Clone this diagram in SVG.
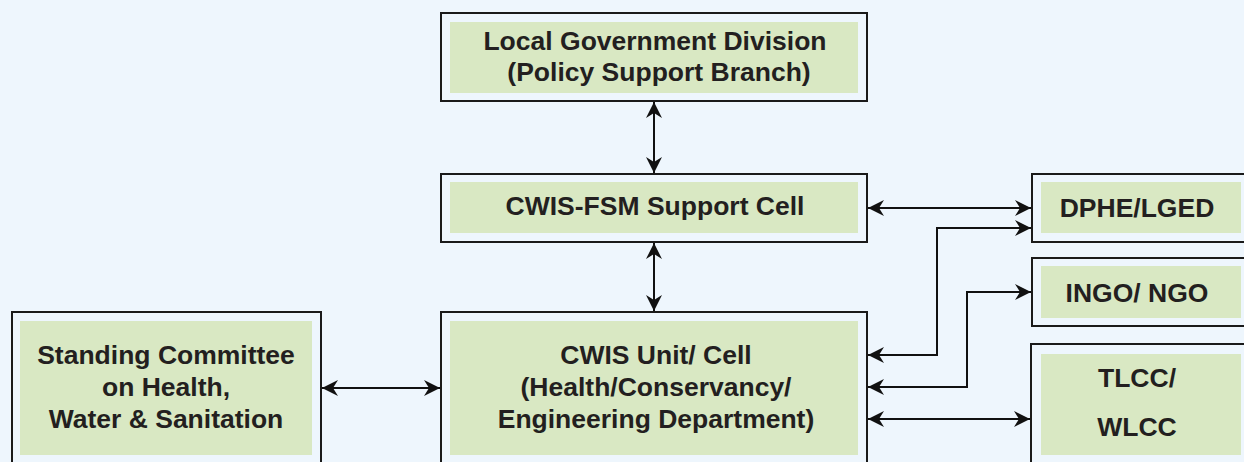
<svg xmlns="http://www.w3.org/2000/svg" width="1244" height="462" viewBox="0 0 1244 462">
  <style>
    .frame { fill: #eef6fd; stroke: #1a1a1a; stroke-width: 2; }
    .panel { fill: #d9e8c3; }
    .label { font-family: "Liberation Sans", Arial, sans-serif; font-weight: bold; font-size: 26.5px; fill: #231f20; text-anchor: middle; }
    .link { fill: none; stroke: #111; stroke-width: 2; marker-start: url(#head); marker-end: url(#head); }
  </style>
  <defs>
    <marker id="head" viewBox="0 0 16 16" refX="16" refY="8" markerWidth="16" markerHeight="16" markerUnits="userSpaceOnUse" orient="auto-start-reverse">
      <path d="M0,0 L16,8 L0,16 L5,8 Z" fill="#111"/>
    </marker>
  </defs>

  <rect width="1244" height="462" fill="#eef6fd"/>

  <g id="lgd">
    <rect class="frame" x="441" y="13" width="426" height="88"/>
    <rect class="panel" x="450" y="22" width="408" height="71"/>
    <text class="label" x="655" y="50">Local Government Division</text>
    <text class="label" x="659" y="81">(Policy Support Branch)</text>
  </g>

  <g id="support-cell">
    <rect class="frame" x="441" y="174" width="426" height="68"/>
    <rect class="panel" x="450" y="182" width="408" height="51"/>
    <text class="label" x="655" y="215">CWIS-FSM Support Cell</text>
  </g>

  <g id="cwis-unit">
    <rect class="frame" x="441" y="312" width="426" height="160"/>
    <rect class="panel" x="450" y="321" width="408" height="134"/>
    <text class="label" x="656" y="364">CWIS Unit/ Cell</text>
    <text class="label" x="656" y="396">(Health/Conservancy/</text>
    <text class="label" x="656" y="428">Engineering Department)</text>
  </g>

  <g id="standing-committee">
    <rect class="frame" x="12" y="312" width="309" height="160"/>
    <rect class="panel" x="20" y="321" width="292" height="134"/>
    <text class="label" x="166" y="364">Standing Committee</text>
    <text class="label" x="166" y="396">on Health,</text>
    <text class="label" x="166" y="428">Water &amp; Sanitation</text>
  </g>

  <g id="dphe-lged">
    <rect class="frame" x="1032" y="174" width="220" height="68"/>
    <rect class="panel" x="1041" y="182" width="200" height="51"/>
    <text class="label" x="1137" y="217">DPHE/LGED</text>
  </g>

  <g id="ingo-ngo">
    <rect class="frame" x="1032" y="258" width="220" height="68"/>
    <rect class="panel" x="1041" y="266" width="200" height="52"/>
    <text class="label" x="1137" y="302">INGO/ NGO</text>
  </g>

  <g id="tlcc-wlcc">
    <rect class="frame" x="1031" y="344" width="220" height="128"/>
    <rect class="panel" x="1041" y="354" width="200" height="101"/>
    <text class="label" x="1137" y="387">TLCC/</text>
    <text class="label" x="1137" y="436">WLCC</text>
  </g>

  <g id="connectors">
    <path class="link" d="M654,102 L654,173"/>
    <path class="link" d="M654,243 L654,311"/>
    <path class="link" d="M322,388 L440,388"/>
    <path class="link" d="M868,208 L1031,208"/>
    <path class="link" d="M868,355 L937,355 L937,228 L1031,228"/>
    <path class="link" d="M868,387 L967,387 L967,292 L1031,292"/>
    <path class="link" d="M868,419 L1030,419"/>
  </g>
</svg>
